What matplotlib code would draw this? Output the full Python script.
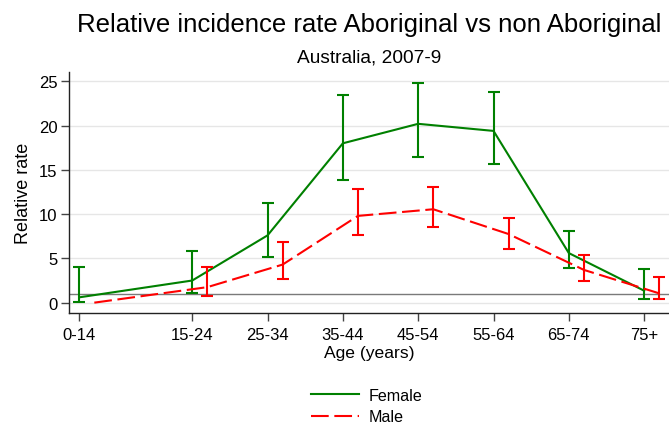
import numpy as np
import matplotlib
matplotlib.use("Agg")
import matplotlib.pyplot as plt

plt.rcParams['font.family'] = ['Liberation Sans', 'DejaVu Sans']

# age groups and their positions on the age axis
age_groups = ["0-14", "15-24", "25-34", "35-44", "45-54", "55-64", "65-74", "75+"]
age_pos = np.array([5, 20, 30, 40, 50, 60, 70, 80])
male_shift = 2

female_rate = np.array([0.6, 2.5, 7.6, 18.0, 20.2, 19.4, 5.6, 1.35])
female_lo = np.array([0.07, 1.13, 5.1, 13.8, 16.5, 15.7, 3.94, 0.45])
female_hi = np.array([4.08, 5.8, 11.3, 23.5, 24.8, 23.85, 8.1, 3.75])

male_rate = np.array([0.0, 1.75, 4.3, 9.8, 10.55, 7.75, 3.7, 1.05])
male_lo = np.array([np.nan, 0.8, 2.65, 7.6, 8.55, 6.05, 2.5, 0.38])
male_hi = np.array([np.nan, 4.05, 6.85, 12.8, 13.1, 9.6, 5.35, 2.93])

green = "#008000"
red = "#ff0000"

fig = plt.figure(figsize=(6.69, 4.27), dpi=100)
ax = fig.add_axes([0.1027, 0.264, 0.8973, 0.566])

for v in range(0, 30, 5):
    ax.axhline(v, color="#e6e6e6", lw=1.0, zorder=0)
ax.axhline(1, color="#7a7a7a", lw=1.0, zorder=1)

fx = age_pos
mx = age_pos + male_shift

ax.errorbar(fx, female_rate, yerr=[female_rate - female_lo, female_hi - female_rate],
            fmt="none", ecolor=green, elinewidth=1.5, capsize=4, capthick=1.5, zorder=3)
ax.plot(fx, female_rate, color=green, lw=1.5, label="Female", zorder=3)

mm = ~np.isnan(male_lo)
ax.errorbar(mx[mm], male_rate[mm], yerr=[male_rate[mm] - male_lo[mm], male_hi[mm] - male_rate[mm]],
            fmt="none", ecolor=red, elinewidth=1.5, capsize=4, capthick=1.5, zorder=3)
ax.plot(mx, male_rate, color=red, lw=1.5, dashes=(8.5, 2.7), label="Male", zorder=3)

ax.set_xlim(3.6, 83.3)
ax.set_ylim(-1.2, 26.1)
ax.set_xticks(age_pos)
ax.set_xticklabels(age_groups)
ax.set_yticks(range(0, 30, 5))
ax.tick_params(axis="both", labelsize=12, length=6, width=1, color="#444444", pad=2)
ax.tick_params(axis="x", pad=4)

for s in ["top", "right"]:
    ax.spines[s].set_visible(False)
for s in ["left", "bottom"]:
    ax.spines[s].set_color("#222222")
    ax.spines[s].set_linewidth(1.0)

ax.set_xlabel("Age (years)", fontsize=12.6, labelpad=2)
ax.set_ylabel("Relative rate", fontsize=13, labelpad=5)

cx = 0.1027 + 0.8973 / 2
fig.text(cx, 0.942, "Relative incidence rate Aboriginal vs non Aboriginal",
         ha="center", va="center", fontsize=18.5)
fig.text(cx, 0.864, "Australia, 2007-9", ha="center", va="center", fontsize=13.8)

fig.legend(loc="center", bbox_to_anchor=(0.548, 0.047), frameon=False, fontsize=11.6,
           handlelength=3.0, labelspacing=0.4, handletextpad=0.56)

fig.savefig("out.png", dpi=100)
